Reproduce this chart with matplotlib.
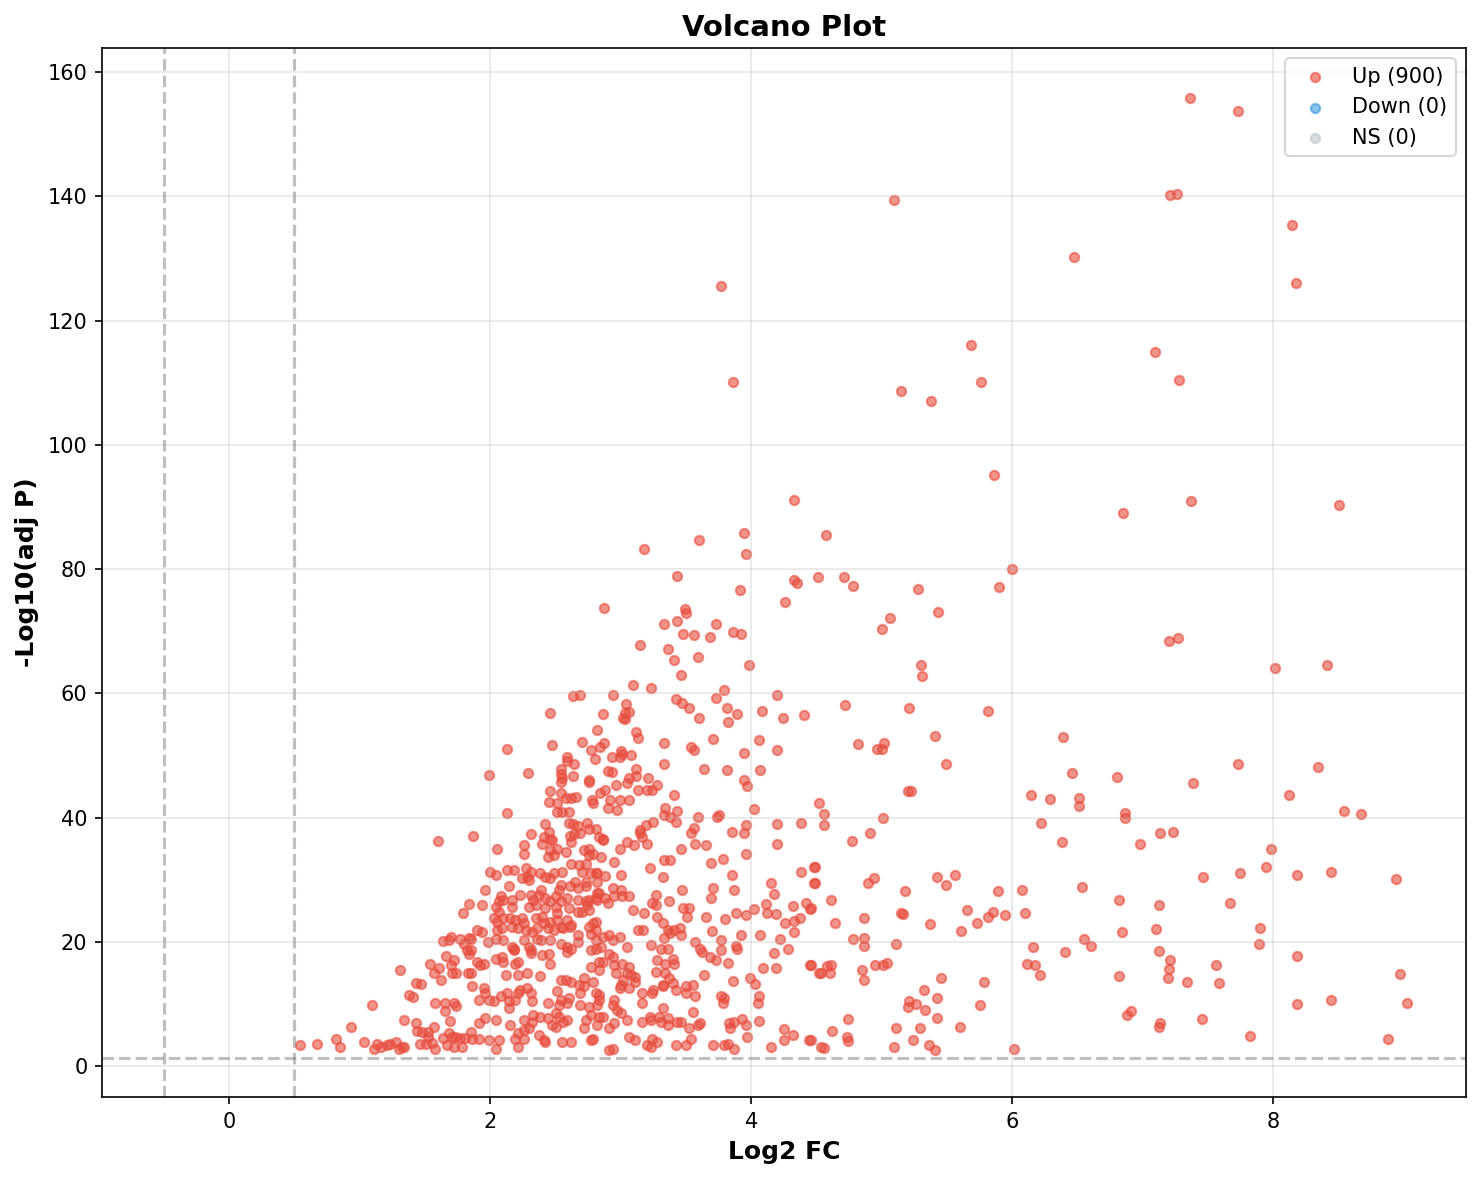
import numpy as np
import matplotlib
matplotlib.use("Agg")
import matplotlib.pyplot as plt

# significance thresholds
fc_cut = 0.5
p_cut = 0.05

# up-regulated genes, (log2 FC, -log10 adj p)
up_top = [
    (7.36, 155.9), (7.73, 153.8), (5.09, 139.5), (7.21, 140.2), (7.26, 140.4), (8.14, 135.4),
    (6.47, 130.3), (8.17, 126.1), (3.77, 125.6), (3.86, 110.1), (5.68, 116.0), (7.09, 115.0),
    (5.15, 108.7), (5.38, 107.1), (5.76, 110.2), (7.28, 110.4), (5.86, 95.1), (6.85, 89.1),
    (7.37, 90.9), (4.33, 91.1), (8.50, 90.3), (6.00, 80.0), (3.18, 83.3), (3.60, 84.7),
    (3.94, 85.8), (3.96, 82.4), (4.57, 85.5), (3.43, 78.9), (4.33, 78.2), (4.35, 77.7),
    (4.51, 78.8), (4.71, 78.7), (4.78, 77.3), (5.28, 76.8), (5.90, 77.1), (3.91, 76.6),
    (4.26, 74.7), (2.87, 73.7), (3.49, 73.6), (3.50, 72.9), (5.43, 73.1), (5.06, 72.1),
    (3.33, 71.1), (3.43, 71.7), (3.73, 71.1), (5.00, 70.3), (3.68, 69.0), (3.48, 69.5),
    (3.56, 69.4), (3.86, 69.8), (3.92, 69.5), (3.15, 67.8), (3.36, 67.1), (3.41, 65.4),
    (3.59, 65.8), (3.98, 64.6), (3.46, 62.9), (5.30, 64.5), (5.31, 62.8), (8.01, 64.0),
    (8.41, 64.5), (7.20, 68.4), (7.27, 68.9), (3.09, 61.3), (3.23, 60.8),
]

up_mid = [
    (2.63, 59.6), (2.69, 59.7), (2.94, 59.7), (3.79, 60.5), (4.20, 59.7), (3.73, 59.2),
    (3.42, 59.1), (3.47, 58.4), (3.52, 57.6), (3.81, 57.6), (3.60, 56.1), (2.46, 56.9),
    (3.04, 58.3), (2.86, 56.7), (3.03, 56.9), (3.06, 57.0), (3.02, 56.1), (3.03, 55.9),
    (3.89, 56.7), (3.82, 55.4), (4.08, 57.1), (4.24, 56.0), (4.40, 56.5), (2.82, 54.1),
    (3.12, 53.8), (3.13, 52.8), (2.13, 51.0), (2.47, 51.6), (2.70, 52.2), (2.77, 50.9),
    (2.80, 49.5), (2.84, 51.4), (2.87, 52.0), (3.33, 52.0), (3.54, 51.4), (3.56, 50.9),
    (3.71, 52.6), (4.06, 52.5), (4.20, 50.9), (3.94, 50.4), (2.59, 49.7), (2.59, 49.1),
    (2.64, 48.6), (2.93, 49.8), (3.00, 50.7), (3.01, 50.3), (2.99, 49.7), (3.08, 50.1),
    (1.99, 46.9), (2.29, 47.1), (2.54, 47.8), (2.54, 47.0), (2.55, 46.3), (2.63, 46.7),
    (2.76, 46.0), (2.90, 47.5), (2.93, 47.3), (2.96, 45.2), (3.06, 46.3), (3.12, 47.8),
    (3.12, 46.7), (3.21, 46.3), (3.28, 45.3), (3.33, 48.7), (3.64, 47.8), (3.81, 47.6),
    (4.07, 47.6), (3.94, 46.0), (3.97, 45.0),
    (2.54, 45.8), (2.76, 45.8), (2.46, 44.2), (2.54, 43.9), (2.45, 42.5), (2.51, 42.3),
    (2.58, 43.1), (2.62, 43.1), (2.66, 43.3), (2.51, 40.9), (2.55, 40.9), (2.60, 40.9),
    (2.78, 42.8), (2.79, 42.3), (2.84, 43.9), (2.88, 44.4), (2.92, 42.8), (2.97, 41.2),
    (2.99, 42.8), (3.05, 45.5), (3.13, 44.4), (3.06, 42.8), (3.20, 44.4), (2.90, 41.5),
    (2.13, 40.8), (2.42, 38.9), (2.45, 37.6), (2.41, 36.8), (2.46, 36.5), (2.60, 39.2),
    (2.63, 38.9), (2.67, 38.6), (2.61, 37.0), (2.64, 37.3), (2.69, 37.5), (2.74, 39.2),
    (2.76, 38.1), (2.81, 38.1), (2.83, 36.8), (2.86, 36.5), (2.31, 37.3), (3.15, 37.5),
    (3.24, 44.4), (3.41, 43.6), (3.34, 41.5), (3.33, 40.4), (3.38, 40.1), (3.43, 41.0),
    (3.42, 39.3), (3.19, 38.8), (3.25, 39.3), (3.15, 38.0), (3.16, 36.9), (3.59, 40.1),
    (3.56, 38.3), (3.54, 37.5), (3.74, 40.1), (3.75, 40.4), (3.85, 37.7), (4.02, 41.3),
    (1.87, 37.0),
]

up_core_a = [
    (2.05, 35.0), (2.26, 35.6), (2.26, 34.2), (2.40, 35.8), (2.47, 36.4), (2.46, 34.8),
    (2.51, 35.0), (2.44, 33.7), (2.49, 34.0), (2.58, 34.5), (2.62, 36.1), (2.72, 34.8),
    (2.76, 35.0), (2.76, 34.0), (2.79, 34.2), (2.62, 32.6), (2.68, 32.4), (2.73, 32.6),
    (2.70, 31.3), (2.77, 31.0), (2.00, 31.3), (2.04, 30.7), (2.13, 31.5), (2.18, 31.5),
    (2.27, 31.8), (2.31, 31.3), (2.28, 30.5), (2.24, 30.2), (2.30, 29.9), (2.38, 31.0),
    (2.42, 30.5), (2.46, 30.2), (2.49, 31.0), (2.55, 31.3), (2.14, 28.9), (1.96, 28.4),
    (2.54, 29.1), (2.53, 28.3), (2.61, 28.9), (2.65, 29.7), (2.67, 28.6), (2.73, 29.7),
    (2.73, 28.9), (2.81, 31.0), (2.82, 27.8), (2.08, 27.3), (2.07, 26.5), (2.10, 26.7),
    (2.17, 26.7), (2.23, 27.5), (2.31, 27.5), (2.33, 26.7), (2.37, 27.5), (2.385, 28.3),
    (2.42, 27.0), (2.46, 26.5), (2.50, 27.3), (2.54, 26.5), (2.59, 27.0), (2.67, 26.7),
    (2.73, 26.5), (2.76, 26.7), (2.81, 27.0), (1.94, 25.9), (2.04, 25.6), (2.07, 24.8),
    (2.17, 25.6), (2.30, 25.6), (2.35, 25.9), (2.42, 25.4), (2.50, 25.6), (2.51, 24.6),
    (2.60, 25.4), (2.67, 24.8), (2.70, 24.8), (2.74, 25.9), (2.76, 25.1), (2.03, 23.8),
    (2.05, 23.2), (2.10, 23.8), (2.15, 23.8), (2.19, 23.5), (2.24, 23.8), (2.26, 23.0),
    (2.35, 23.8), (2.40, 24.0), (2.41, 23.0), (2.46, 23.2), (2.51, 23.5), (2.59, 23.5),
    (2.62, 22.7), (2.79, 23.0), (1.90, 21.9), (1.94, 21.6), (2.05, 21.9), (2.09, 22.2),
    (2.17, 22.4), (2.21, 22.2), (2.27, 21.9), (2.32, 21.6), (2.36, 22.2), (2.44, 22.2),
    (2.49, 21.9), (2.54, 22.4), (2.56, 22.2), (2.61, 22.4), (2.67, 21.1), (2.76, 22.4),
    (2.77, 21.3), (1.85, 20.5), (1.98, 20.0), (2.04, 20.5), (2.10, 20.3), (2.17, 19.2),
    (2.26, 20.3), (2.30, 19.2), (2.36, 20.5), (2.385, 20.3), (2.46, 20.3), (2.54, 19.7),
    (2.59, 19.2), (2.62, 18.9), (2.67, 20.0), (2.77, 18.7), (2.81, 20.3), (2.85, 19.2),
    (1.85, 18.7), (2.18, 18.9), (2.31, 18.7),
]

up_core_b = [
    (2.86, 36.4), (2.99, 35.0), (3.05, 36.1), (3.10, 35.6), (3.20, 35.8), (3.46, 35.0),
    (3.57, 35.8), (3.65, 35.6), (2.85, 33.7), (2.95, 32.9), (3.33, 33.2), (3.38, 33.2),
    (3.69, 32.7), (3.78, 33.3), (3.22, 31.8), (3.32, 30.4), (3.00, 30.7), (2.82, 31.0),
    (2.88, 30.6), (2.82, 29.7), (2.94, 28.6), (3.00, 28.3), (3.01, 27.3), (3.06, 27.3),
    (2.95, 27.3), (2.88, 27.0), (2.83, 27.8), (2.82, 26.7), (2.90, 26.2), (3.27, 27.5),
    (3.24, 26.2), (3.27, 25.9), (3.37, 26.5), (3.47, 28.3), (3.71, 28.6), (3.69, 27.0),
    (3.09, 25.1), (3.18, 24.6), (3.48, 25.4), (3.52, 25.4), (3.51, 24.0), (3.28, 24.0),
    (3.32, 23.0), (3.36, 21.9), (3.41, 21.9), (3.45, 22.2), (3.46, 21.1), (3.38, 21.4),
    (3.13, 21.9), (3.17, 21.9), (3.65, 24.0), (3.80, 23.6), (3.70, 21.8), (2.81, 23.2),
    (2.81, 21.9), (2.86, 20.8), (2.91, 21.1), (2.99, 20.8), (2.94, 20.3), (3.33, 20.6),
    (3.57, 20.0), (3.61, 18.9), (3.77, 20.3), (3.05, 19.2), (3.23, 19.5), (3.31, 18.9),
    (3.36, 18.9), (2.81, 18.9), (2.91, 18.1), (3.77, 18.7),
]

up_core_c = [
    (1.90, 16.8), (1.95, 16.5), (1.92, 16.3), (2.04, 17.3), (2.09, 17.6), (2.10, 16.8),
    (2.18, 18.7), (2.21, 16.8), (2.19, 16.5), (2.31, 18.2), (2.40, 17.9), (2.45, 18.1),
    (2.46, 16.5), (2.59, 18.3), (2.77, 16.0), (2.83, 16.8), (2.12, 14.6), (2.21, 14.6),
    (2.28, 14.9), (2.38, 14.5), (1.85, 14.9), (2.54, 13.8), (2.58, 13.8), (2.62, 13.6),
    (2.72, 14.1), (2.68, 13.0), (2.79, 13.6), (1.86, 12.8), (1.95, 12.5), (1.96, 11.7),
    (1.91, 10.6), (1.99, 10.6), (2.03, 10.4), (2.08, 11.2), (2.13, 11.7), (2.14, 10.4),
    (2.14, 9.3), (2.19, 10.6), (2.23, 12.2), (2.28, 12.5), (2.31, 11.7), (2.32, 10.4),
    (2.21, 11.7), (2.51, 12.0), (2.44, 10.1), (2.53, 9.8), (2.54, 10.6), (2.59, 10.1),
    (2.60, 10.9), (2.69, 11.7), (2.72, 12.8), (2.69, 9.8), (2.76, 9.5), (2.82, 9.8),
    (2.83, 11.4), (1.91, 6.9), (1.96, 7.7), (2.04, 7.4), (2.15, 6.6), (2.26, 7.4),
    (2.32, 7.1), (2.33, 8.2), (2.38, 7.9), (2.44, 7.7), (2.50, 8.5), (2.53, 7.9),
    (2.56, 7.1), (2.47, 6.6), (2.50, 6.3), (2.59, 7.4), (2.73, 7.4), (2.77, 8.2),
    (2.83, 7.9), (2.82, 6.6), (2.72, 6.1), (1.85, 5.5), (1.86, 4.4), (1.91, 4.4),
    (1.99, 4.2), (2.07, 4.2), (2.04, 2.8), (2.21, 5.3), (2.19, 4.4), (2.26, 4.4),
    (2.21, 3.1), (2.37, 5.0), (2.42, 3.9), (2.55, 3.9), (2.62, 3.9), (2.77, 4.2),
    (2.79, 4.4), (2.26, 5.8), (2.30, 6.1), (2.41, 4.2),
]

up_core_d = [
    (2.86, 16.8), (2.94, 17.6), (2.83, 15.4), (2.96, 14.9), (2.95, 16.3), (3.01, 16.5),
    (3.06, 16.0), (3.05, 14.9), (3.08, 14.6), (3.11, 14.4), (3.11, 13.6), (3.02, 13.8),
    (3.00, 13.0), (2.99, 12.5), (3.06, 12.5), (2.81, 11.7), (2.83, 10.6), (2.95, 10.6),
    (2.94, 9.8), (3.28, 17.1), (3.34, 16.5), (3.40, 17.3), (3.41, 16.5), (3.27, 15.2),
    (3.34, 14.9), (3.37, 14.1), (3.40, 13.3), (3.32, 12.8), (3.25, 12.2), (3.24, 11.7),
    (3.32, 13.0), (3.16, 11.7), (3.16, 10.1), (3.42, 12.2), (3.50, 12.8), (3.55, 13.0),
    (3.50, 11.7), (3.57, 11.2), (3.64, 14.6), (3.68, 17.6), (3.62, 18.4), (3.73, 17.1),
    (3.77, 11.2), (3.78, 10.1), (2.86, 7.9), (2.91, 6.1), (2.95, 6.9), (2.97, 9.0),
    (3.00, 8.5), (3.05, 7.4), (3.16, 7.1), (3.22, 7.9), (3.23, 7.4), (3.29, 7.9),
    (3.31, 7.1), (3.36, 7.7), (3.36, 6.6), (3.43, 7.1), (3.46, 7.1), (3.52, 6.1),
    (3.59, 6.6), (3.61, 6.9), (3.55, 8.7), (3.32, 9.3), (3.06, 4.7), (3.11, 4.2),
    (3.20, 3.4), (3.24, 4.4), (3.28, 3.9), (3.23, 3.1), (3.42, 3.4), (3.50, 3.4),
    (3.54, 4.4), (3.71, 3.4), (3.79, 3.4), (2.91, 2.6), (2.94, 2.7),
]

up_left = [
    (1.60, 36.2), (1.84, 26.1), (1.79, 24.7), (1.64, 20.1), (1.70, 20.8), (1.68, 20.3),
    (1.77, 20.4), (1.84, 20.6), (1.80, 19.6), (1.82, 18.7), (1.84, 18.1), (1.66, 17.7),
    (1.72, 17.1), (1.70, 16.3), (1.54, 16.5), (1.57, 15.0), (1.61, 15.7), (1.62, 13.8),
    (1.71, 15.0), (1.74, 15.0), (1.31, 15.5), (1.43, 13.4), (1.47, 13.2), (1.38, 11.4),
    (1.41, 11.1), (1.83, 15.0), (1.09, 9.8), (1.58, 10.2), (1.65, 10.1), (1.72, 10.2),
    (1.74, 9.7), (1.65, 8.9), (1.34, 7.4), (1.43, 7.0), (1.57, 6.3), (1.69, 7.3),
    (0.93, 6.2), (1.44, 5.7), (1.48, 5.4), (1.52, 5.4), (1.52, 4.7), (0.82, 4.3),
    (0.85, 3.0), (0.54, 3.3), (0.67, 3.5), (1.03, 3.8), (1.13, 3.5), (1.11, 2.8),
    (1.16, 3.1), (1.21, 3.3), (1.23, 3.5), (1.28, 3.9), (1.30, 2.7), (1.32, 3.1),
    (1.34, 3.1), (1.46, 3.5), (1.51, 3.5), (1.55, 3.7), (1.58, 2.7), (1.64, 4.5),
    (1.68, 5.3), (1.71, 4.7), (1.73, 4.7), (1.77, 4.5), (1.81, 4.5), (1.67, 3.4),
    (1.72, 3.1), (1.78, 3.1),
]

up_edge = [
    (3.96, 38.8), (3.94, 37.5), (3.96, 34.1), (3.85, 30.7), (3.87, 28.3), (3.88, 24.7),
    (3.96, 24.3), (4.02, 25.2), (3.92, 21.1), (3.82, 16.6), (3.88, 19.3), (3.89, 18.9),
    (3.86, 13.7), (3.79, 10.9), (3.99, 14.1), (4.03, 13.2), (4.06, 11.3), (4.05, 10.2),
    (3.83, 6.9), (3.84, 6.1), (3.87, 7.1), (3.93, 7.5), (3.96, 6.6), (4.06, 7.3),
    (3.82, 3.6), (3.87, 2.7), (3.97, 4.7), (4.15, 3.1), (4.25, 4.2), (4.25, 5.9),
    (4.32, 5.0), (4.44, 4.2), (4.53, 3.1), (4.20, 38.9), (4.38, 39.2), (4.20, 35.8),
    (4.38, 31.3), (4.48, 32.0), (4.48, 29.4), (4.15, 29.4), (4.17, 27.7), (4.11, 26.1),
    (4.12, 24.6), (4.19, 24.4), (4.32, 25.8), (4.42, 26.3), (4.45, 25.2), (4.26, 23.0),
    (4.33, 23.3), (4.37, 23.9), (4.33, 21.6), (4.07, 21.1), (4.22, 20.4), (4.28, 18.9),
    (4.17, 18.2), (4.09, 15.7), (4.19, 15.7), (4.45, 16.3), (4.52, 14.9),
]

up_right = [
    (4.72, 58.1), (5.21, 57.6), (5.81, 57.1), (4.82, 51.9), (4.96, 51.0), (5.00, 51.0),
    (5.02, 52.0), (5.41, 53.1), (5.49, 48.7), (5.20, 44.3), (5.22, 44.3), (4.52, 42.4),
    (4.56, 40.6), (4.56, 38.8), (5.01, 39.9), (4.77, 36.3), (4.91, 37.5), (4.49, 32.0),
    (4.49, 29.4), (4.61, 26.8), (4.46, 25.4), (4.64, 23.0), (4.89, 29.4), (4.94, 30.2),
    (4.86, 23.8), (5.18, 28.2), (5.15, 24.6), (5.16, 24.5), (4.78, 20.5), (4.86, 20.6),
    (4.86, 19.3), (5.11, 19.6), (4.46, 16.3), (4.53, 14.9), (4.58, 16.1), (4.61, 16.3),
    (4.60, 15.0), (4.85, 15.5), (4.86, 13.9), (4.95, 16.3), (5.01, 16.3), (5.04, 16.6),
    (5.42, 30.5), (5.49, 29.2), (5.56, 30.7), (5.37, 22.8), (5.65, 25.1), (5.61, 21.7),
    (5.73, 23.0), (5.81, 24.0), (5.85, 24.8), (5.94, 24.3), (5.89, 28.2), (6.07, 28.4),
    (6.10, 24.6), (6.14, 43.6), (6.29, 43.0), (6.22, 39.2), (6.39, 52.9), (6.46, 47.1),
    (6.51, 43.1), (6.51, 41.8), (6.38, 36.0), (6.80, 46.5), (6.86, 40.7), (6.86, 40.0),
    (6.98, 35.7), (6.53, 28.8), (6.82, 26.8), (6.84, 21.5), (6.55, 20.5), (6.60, 19.3),
    (6.40, 18.3), (6.16, 19.2), (6.11, 16.5), (6.17, 16.3), (6.21, 14.7), (6.82, 14.5),
    (6.88, 8.2), (6.91, 8.8), (5.45, 14.1), (5.32, 12.2), (5.42, 10.9), (5.21, 10.5),
    (5.20, 9.5), (5.26, 9.9), (5.33, 9.0), (5.42, 7.8), (5.78, 13.5), (5.75, 9.8),
    (5.60, 6.3), (5.29, 6.1), (5.11, 6.1), (5.24, 4.2), (5.36, 3.3), (5.41, 2.6),
    (5.09, 3.1), (6.01, 2.7), (4.74, 7.6), (4.73, 4.6), (4.74, 4.0), (4.62, 5.6),
    (4.56, 2.9), (4.46, 4.2),
    (7.73, 48.6), (8.34, 48.2), (7.38, 45.5), (8.12, 43.7), (8.54, 41.0), (8.67, 40.6),
    (7.13, 37.5), (7.23, 37.7), (7.98, 35.0), (7.94, 32.1), (7.46, 30.4), (7.74, 31.0),
    (8.18, 30.7), (8.44, 31.2), (8.94, 30.1), (7.12, 25.9), (7.67, 26.3), (7.10, 22.0),
    (7.90, 22.2), (7.89, 19.7), (7.12, 18.5), (7.21, 17.0), (7.20, 15.6), (7.19, 14.2),
    (7.34, 13.6), (7.56, 16.3), (7.58, 13.3), (8.18, 17.7), (8.97, 14.8), (8.18, 10.0),
    (8.44, 10.7), (9.02, 10.1), (7.13, 7.0), (7.12, 6.2), (7.45, 7.6), (7.82, 4.8),
    (8.88, 4.3),
]

# no genes fell in the other two groups
down_fc, down_p = [], []
ns_fc, ns_p = [], []

legend_labels = ["Up (900)", "Down (0)", "NS (0)"]

up = np.array(up_top + up_mid + up_core_a + up_core_b + up_core_c + up_core_d
              + up_left + up_edge + up_right)

fig, ax = plt.subplots(figsize=(9.88, 7.867), dpi=150)
fig.subplots_adjust(left=0.0688, right=0.9892, bottom=0.0703, top=0.9593)

ax.scatter(up[:, 0], up[:, 1], color="#e74c3c", alpha=0.6, s=20, label=legend_labels[0])
ax.scatter(down_fc, down_p, color="#3498db", alpha=0.6, s=20, label=legend_labels[1])
ax.scatter(ns_fc, ns_p, color="#bdc3c7", alpha=0.6, s=20, label=legend_labels[2])

ax.axhline(-np.log10(p_cut), color="gray", linestyle="--", alpha=0.5)
ax.axvline(-fc_cut, color="gray", linestyle="--", alpha=0.5)
ax.axvline(fc_cut, color="gray", linestyle="--", alpha=0.5)

ax.set_xlim(-0.975, 9.475)
ax.set_ylim(-5.0, 163.9)
ax.set_xlabel("Log2 FC", fontsize=12, fontweight="bold")
ax.set_ylabel("-Log10(adj P)", fontsize=12, fontweight="bold")
ax.set_title("Volcano Plot", fontsize=14, fontweight="bold")
ax.legend(loc="upper right")
ax.grid(True, alpha=0.3)

fig.savefig("out.png", dpi=150)
